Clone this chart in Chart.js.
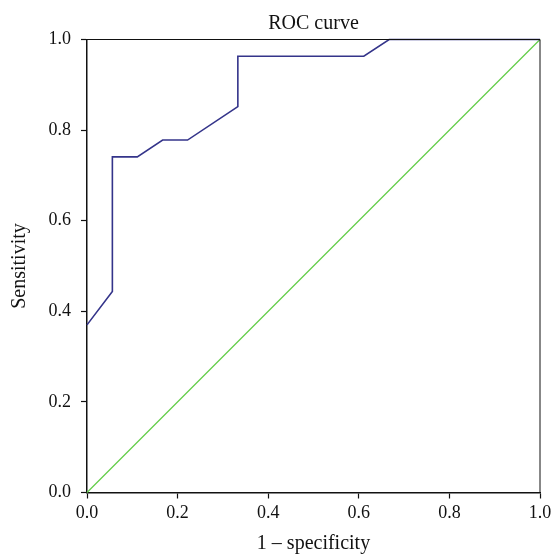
<!DOCTYPE html>
<html>
<head>
<meta charset="utf-8">
<script src="https://cdn.jsdelivr.net/npm/chart.js@4/dist/chart.umd.min.js"></script>
<style>
  html, body { margin: 0; padding: 0; background: #fff; }
  #wrap { width: 556px; height: 556px; }
</style>
</head>
<body>
<div id="wrap"><canvas id="roc" width="556" height="556"></canvas></div>
<script>
var fpr = [0, 0.056, 0.056, 0.111, 0.167, 0.222, 0.333, 0.333, 0.611, 0.667, 1];
var tpr = [0.370, 0.444, 0.741, 0.741, 0.778, 0.778, 0.852, 0.963, 0.963, 1, 1];
var chanceX = [0, 1];
var chanceY = [0, 1];
var tickValues = [0, 0.2, 0.4, 0.6, 0.8, 1.0];

var INK = "#111";
var SERIF = "'Liberation Serif','Times New Roman',serif";

function toPoints(xs, ys) {
  return xs.map(function (x, i) { return { x: x, y: ys[i] }; });
}

// the two lines that close the box at the top and the right
var frame = {
  id: "frame",
  afterDraw: function (chart) {
    var a = chart.chartArea, ctx = chart.ctx;
    ctx.save();
    ctx.strokeStyle = INK;
    ctx.lineWidth = 1;
    ctx.beginPath();
    ctx.moveTo(a.left, a.top);
    ctx.lineTo(a.right, a.top);
    ctx.lineTo(a.right, a.bottom);
    ctx.stroke();
    ctx.restore();
  }
};

function axis(titleText, size) {
  return {
    type: "linear",
    min: 0,
    max: 1,
    afterBuildTicks: function (scale) {
      scale.ticks = tickValues.map(function (v) { return { value: v }; });
    },
    grid: { drawOnChartArea: false, color: INK, tickLength: 6, tickWidth: 1.2 },
    border: { color: INK, width: 1.5 },
    ticks: {
      color: INK,
      font: { family: SERIF, size: 18 },
      callback: function (v) { return Number(v).toFixed(1); }
    },
    title: {
      display: true,
      text: titleText,
      color: INK,
      font: { family: SERIF, size: 20 }
    }
  };
}

var xAxis = axis("1 \u2013 specificity");
xAxis.ticks.padding = 4;
xAxis.title.padding = { top: 0, bottom: 0 };
xAxis.afterFit = function (scale) { scale.height = 63.5; };

var yAxis = axis("Sensitivity");
yAxis.ticks.padding = 10;
yAxis.title.padding = { top: 8, bottom: 0 };
yAxis.afterFit = function (scale) { scale.width = 87; };

Chart.defaults.animation = false;

new Chart(document.getElementById("roc"), {
  type: "scatter",
  data: {
    datasets: [
      {
        label: "ROC",
        data: toPoints(fpr, tpr),
        showLine: true,
        borderColor: "#34348a",
        borderWidth: 1.6,
        pointRadius: 0,
        tension: 0,
        clip: false
      },
      {
        label: "Reference",
        data: toPoints(chanceX, chanceY),
        showLine: true,
        borderColor: "#62cc48",
        borderWidth: 1.2,
        pointRadius: 0,
        tension: 0,
        clip: false
      }
    ]
  },
  options: {
    responsive: false,
    layout: { padding: { left: 0, right: 16, top: 0, bottom: 0 } },
    plugins: {
      legend: { display: false },
      tooltip: { enabled: false },
      title: {
        display: true,
        fullSize: false,
        text: "ROC curve",
        color: INK,
        font: { family: SERIF, size: 20, weight: "normal" },
        padding: { top: 12, bottom: 3.5 }
      }
    },
    scales: { x: xAxis, y: yAxis }
  },
  plugins: [frame]
});
</script>
</body>
</html>
